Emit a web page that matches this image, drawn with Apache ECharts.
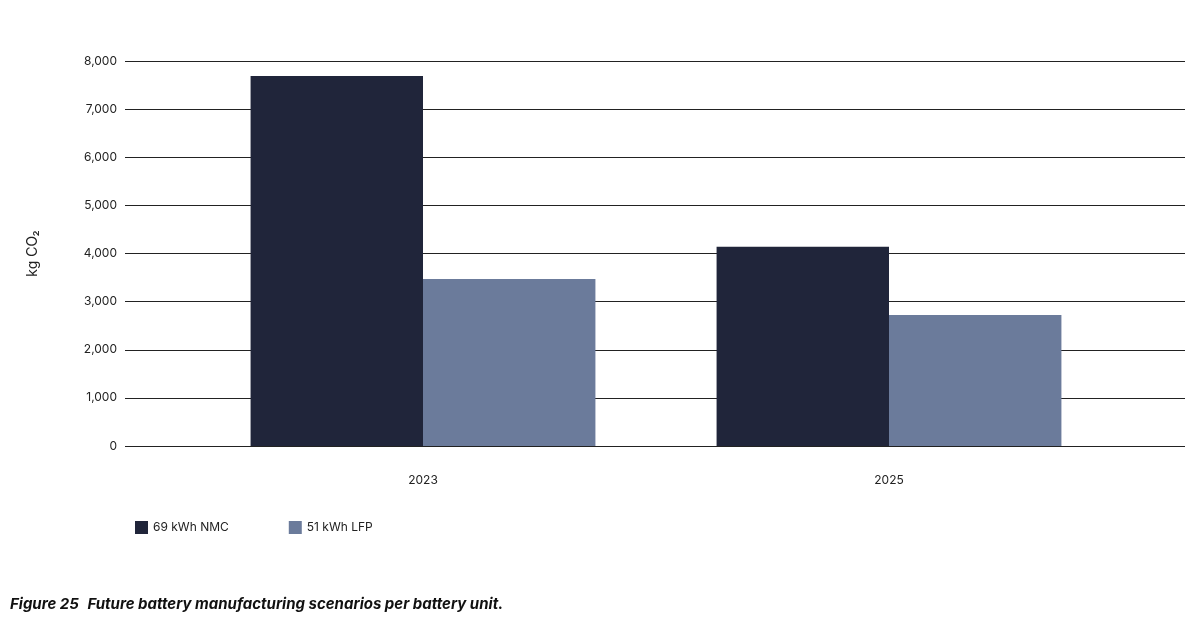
<!DOCTYPE html>
<html><head><meta charset="utf-8">
<script src="https://cdn.jsdelivr.net/npm/echarts@6/dist/echarts.min.js"></script>
<style>body{margin:0;background:#fff}#c{width:1200px;height:624px}</style>
</head><body><div id="c"></div>
<script>
const years = ['2023', '2025'];
const nmc = [7690, 4140]; // 69 kWh NMC
const lfp = [3470, 2720]; // 51 kWh LFP
const yTicks = [0, 8000, 1000];

var myChart = echarts.init(document.getElementById('c'));
var font = 'Inter, Roboto, sans-serif';
var option = {
	textStyle: { fontFamily: font },
	grid: [
		{ left: 125, right: 15, top: 61, bottom: 178 },
		{ left: 190, right: 78, top: 61, bottom: 178 }
	],
	legend: {
		left: 130, top: 516, itemWidth: 13, itemHeight: 13, itemGap: 60,
		icon: 'rect',
		textStyle: { fontSize: 12, color: '#222', fontFamily: font },
		data: ['69 kWh NMC', '51 kWh LFP']
	},
	title: {
		left: 5, top: 590,
		text: '{b|Figure 25}  {i|Future battery manufacturing scenarios per battery unit.}',
		textStyle: { rich: {
			b: { fontWeight: 'bold', fontStyle: 'italic', fontSize: 15, color: '#111', fontFamily: font },
			i: { fontStyle: 'italic', fontSize: 15, color: '#111', fontFamily: font }
		} }
	},
	xAxis: [
		{ gridIndex: 0, type: 'category', data: years, show: false },
		{ gridIndex: 1, type: 'category', data: years,
		  axisLine: { show: false }, axisTick: { show: false },
		  axisLabel: { margin: 28, fontSize: 12, color: '#222' } }
	],
	yAxis: [
		{ gridIndex: 0, type: 'value', min: yTicks[0], max: yTicks[1], interval: yTicks[2],
		  name: 'kg CO₂', nameLocation: 'middle', nameGap: 85, nameRotate: 90,
		  nameTextStyle: { fontSize: 14, color: '#222' },
		  axisLine: { show: false }, axisTick: { show: false },
		  axisLabel: { margin: 8, fontSize: 12, color: '#222',
			formatter: function (v) { return v.toLocaleString('en-US'); } },
		  splitLine: { lineStyle: { color: '#222', width: 1 } } },
		{ gridIndex: 1, type: 'value', min: yTicks[0], max: yTicks[1], interval: yTicks[2], show: false }
	],
	series: [
		{ name: '69 kWh NMC', type: 'bar', xAxisIndex: 1, yAxisIndex: 1, data: nmc,
		  barGap: '0%', barCategoryGap: '26%', itemStyle: { color: '#20253a' } },
		{ name: '51 kWh LFP', type: 'bar', xAxisIndex: 1, yAxisIndex: 1, data: lfp,
		  itemStyle: { color: '#6b7b9b' } }
	]
};
myChart.setOption(option);
</script></body></html>
